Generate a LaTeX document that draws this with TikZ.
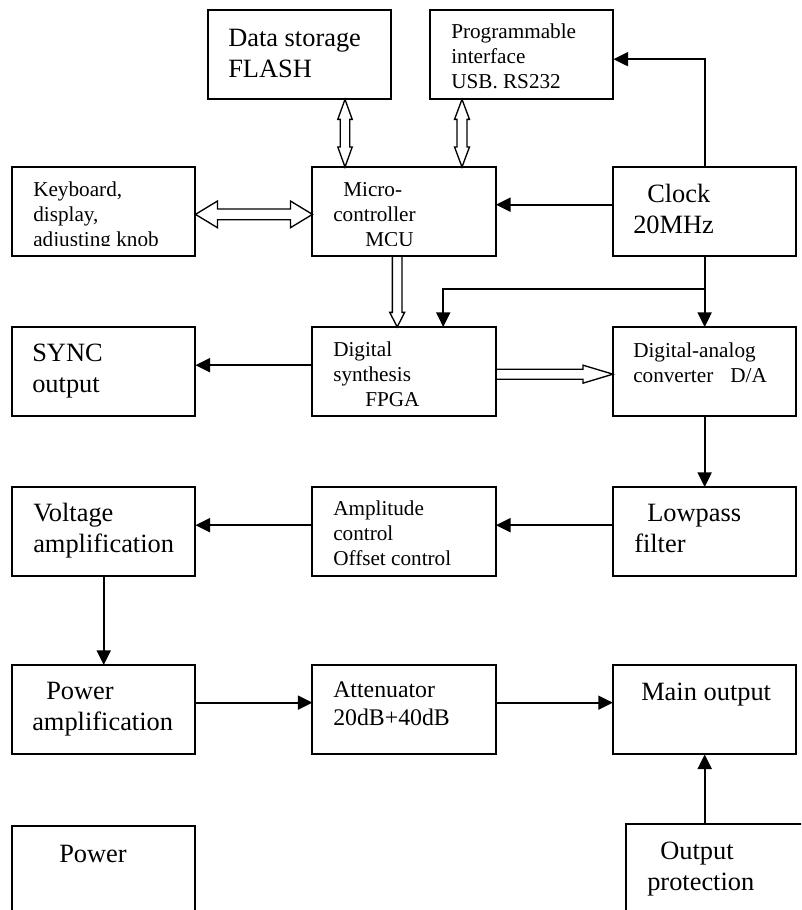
\documentclass[tikz,border=0pt]{standalone}
\usepackage{fontspec}
\setmainfont{Liberation Serif}
\usetikzlibrary{positioning, arrows.meta, calc}
\tikzset{
  block/.style={
    rectangle,
    draw=black, line width=1.5pt,
    minimum width=137.6pt,
    minimum height=67pt,
    inner sep=0pt,
    outer sep=0pt,
    anchor=north west
  },
  bigtext/.style={font=\fontsize{19.8pt}{23pt}\selectfont, align=left, inner sep=0pt, anchor=base west},
  midtext/.style={font=\fontsize{17.85pt}{21pt}\selectfont, align=left, inner sep=0pt, anchor=base west},
  smalltext/.style={font=\fontsize{15.9pt}{18.4pt}\selectfont, align=left, inner sep=0pt, anchor=base west},
  arrow/.style={
    draw=black,
    line width=1.5pt,
    -{Triangle[length=11pt,width=10.5pt]}
  },
  hollow/.style={draw=black, line width=1pt, line join=miter}
}
% hollow block arrows: ends, half shaft, half head, head length
\newcommand\dblarrow[5]{%
  \draw[hollow] (#1) -- ($(#1)!#5!(#2)!#4!90:(#2)$) -- ($(#1)!#5!(#2)!#3!90:(#2)$)
    -- ($(#2)!#5!(#1)!#3!-90:(#1)$) -- ($(#2)!#5!(#1)!#4!-90:(#1)$) -- (#2)
    -- ($(#2)!#5!(#1)!#4!90:(#1)$) -- ($(#2)!#5!(#1)!#3!90:(#1)$)
    -- ($(#1)!#5!(#2)!#3!-90:(#2)$) -- ($(#1)!#5!(#2)!#4!-90:(#2)$) -- cycle;}
\newcommand\onearrow[5]{%
  \draw[hollow] ($(#1)!#3!90:(#2)$) -- ($(#2)!#5!(#1)!#3!-90:(#1)$)
    -- ($(#2)!#5!(#1)!#4!-90:(#1)$) -- (#2) -- ($(#2)!#5!(#1)!#4!90:(#1)$)
    -- ($(#2)!#5!(#1)!#3!90:(#1)$) -- ($(#1)!#3!-90:(#2)$);}

\begin{document}
\begin{tikzpicture}[x=0.75pt, y=-0.75pt]
\clip (0,0) rectangle (801,910);

% boxes
\node[block] (flash) at (208,10) {};
\node[block] (prog) at (430,10) {};

\node[block] (kbd) at (12,167) {};
\node[block, right=87.75pt of kbd] (mcu) {};
\node[block, right=87.75pt of mcu] (clk) {};

\node[block] (sync) at (12,327) {};
\node[block, right=87.75pt of sync] (fpga) {};
\node[block, right=87.75pt of fpga] (dac) {};

\node[block] (volt) at (12,487) {};
\node[block, right=87.75pt of volt] (ampl) {};
\node[block, right=87.75pt of ampl] (lpf) {};

\node[block] (pamp) at (12,665) {};
\node[block, right=87.75pt of pamp] (att) {};
\node[block, right=87.75pt of att] (mout) {};

\node[block, minimum height=90pt] (pwr) at (12,826) {};
\node[block, minimum width=187pt, minimum height=90pt] (prot) at (626,824) {};

% texts (placed at the baseline of their last line)
\node[bigtext] (flash-t) at (228,77) {Data storage\\FLASH};
\node[smalltext] (prog-t) at (451,88) {Programmable\\interface\\USB. RS232};
\begin{scope}
  \clip (kbd.north west) rectangle ($(kbd.south east)+(0,-11)$);
  \node[smalltext] (kbd-t) at (33,246) {Keyboard,\\display,\\adjusting knob};
\end{scope}
\begin{scope}
  \clip (mcu.north west) rectangle ($(mcu.south east)+(0,-11)$);
  \node[smalltext] (mcu-t) at (333,246) {\hspace*{7.5pt}Micro-\\controller\\\hspace*{24pt}MCU};
\end{scope}
\node[bigtext] (clk-t) at (633,233) {\hspace*{10.5pt}Clock\\20MHz};
\node[bigtext] (sync-t) at (32,392) {SYNC\\output};
\node[smalltext] (fpga-t) at (333,406) {Digital\\synthesis\\\hspace*{24pt}FPGA};
\node[smalltext] (dac-t) at (633,382) {Digital-analog\\converter\hspace{12.75pt}D/A};
\node[bigtext] (volt-t) at (33,552) {Voltage\\amplification};
\begin{scope}
  \clip (ampl.north west) rectangle ($(ampl.south east)+(0,-11)$);
  \node[smalltext] (ampl-t) at (333,565) {Amplitude\\control\\Offset control};
\end{scope}
\node[bigtext] (lpf-t) at (634,552) {\hspace*{9.75pt}Lowpass\\filter};
\node[bigtext] (pamp-t) at (32,730) {\hspace*{10.5pt}Power\\amplification};
\node[midtext] (att-t) at (333,725) {Attenuator\\20dB+40dB};
\node[bigtext] (mout-t) at (641,700) {Main output};
\node[bigtext] (pwr-t) at (59,862) {Power};
\node[bigtext] (prot-t) at (647,890) {\hspace*{9.75pt}Output\\protection};

% edges

%% buses
\coordinate (fl-b) at ($(flash.south west)+(137,0)$);
\coordinate (fl-m) at (fl-b |- mcu.north);
\dblarrow{fl-b}{fl-m}{3.6pt}{5.4pt}{15pt}

\coordinate (pr-b) at ($(prog.south west)+(32,0)$);
\coordinate (pr-m) at (pr-b |- mcu.north);
\dblarrow{pr-b}{pr-m}{3.8pt}{5.6pt}{15pt}

\coordinate (kb-r) at ($(kbd.east)+(0,2.7)$);
\coordinate (mc-l) at (kb-r -| mcu.west);
\dblarrow{kb-r}{mc-l}{4pt}{10pt}{16.5pt}

\coordinate (mc-b) at ($(mcu.south)+(-7,0)$);
\coordinate (fp-t) at (mc-b |- fpga.north);
\onearrow{mc-b}{fp-t}{3.6pt}{5.6pt}{11pt}

\coordinate (fp-r) at ($(fpga.east)+(0,2.5)$);
\coordinate (da-l) at (fp-r -| dac.west);
\onearrow{fp-r}{da-l}{3.75pt}{6.75pt}{22.5pt}

%% clock
\coordinate (ck-up) at ($(prog.east)+(0,4.5)$);
\draw[arrow] (clk.north) |- (ck-up);
\draw[arrow] ($(clk.west)+(0,-7)$) -- ($(mcu.east)+(0,-7)$);
\coordinate (ck-split) at ($(clk.south)+(0,33)$);
\coordinate (fp-clk) at ($(fpga.north)+(39,0)$);
\draw[arrow] (clk.south) -- (ck-split) -| (fp-clk);
\draw[arrow] (ck-split) -- (dac.north);

%% signal chain
\draw[arrow] ($(fpga.west)+(0,-6.5)$) -- ($(sync.east)+(0,-6.5)$);
\draw[arrow] (dac.south) -- (lpf.north);
\draw[arrow] ($(lpf.west)+(0,-6.5)$) -- ($(ampl.east)+(0,-6.5)$);
\draw[arrow] ($(ampl.west)+(0,-6.5)$) -- ($(volt.east)+(0,-6.5)$);
\draw[arrow] (volt.south) -- (pamp.north);
\draw[arrow] ($(pamp.east)+(0,-7)$) -- ($(att.west)+(0,-7)$);
\draw[arrow] ($(att.east)+(0,-7)$) -- ($(mout.west)+(0,-7)$);
\draw[arrow] (mout.south |- prot.north) -- (mout.south);

\end{tikzpicture}
\end{document}
